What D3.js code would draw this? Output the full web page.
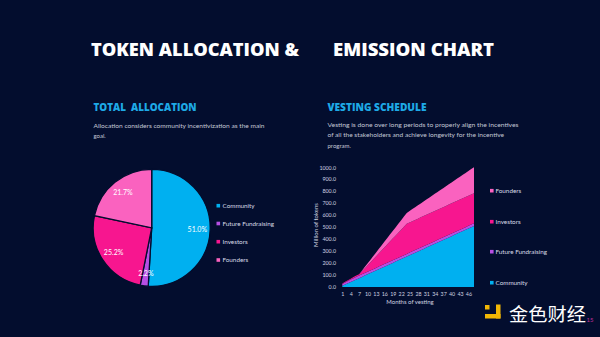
<!DOCTYPE html>
<html><head><meta charset="utf-8">
<script src="https://cdn.jsdelivr.net/npm/d3@7"></script>
<style>
html,body{margin:0;padding:0;background:#030d2e;}
svg{display:block;}
</style></head>
<body>
<svg id="c" width="600" height="337"></svg>
<script>
// ---------- DATA ----------
const pieCategories = ["Community", "Future Fundraising", "Investors", "Founders"];
const pieValues = [51.0, 2.2, 25.2, 21.7];
const pieLabels = ["51.0%", "2.2%", "25.2%", "21.7%"];

const months = d3.range(1, 49);
const monthTicks = [1, 4, 7, 10, 13, 16, 19, 22, 25, 28, 31, 34, 37, 40, 43, 46];
const yTicks = [0, 100, 200, 300, 400, 500, 600, 700, 800, 900, 1000];

const community = [10, 20.6, 31.3, 41.9, 52.6, 63.2, 73.8, 84.5, 95.1, 105.7, 116.4, 127, 137.7, 148.3, 158.9, 169.6,
  180.2, 190.9, 201.5, 212.1, 222.8, 233.4, 244, 254.7, 265.3, 276, 286.6, 297.2, 307.9, 318.5, 329.1, 339.8,
  350.4, 361.1, 371.7, 382.3, 393, 403.6, 414.3, 424.9, 435.5, 446.2, 456.8, 467.4, 478.1, 488.7, 499.4, 510];
const futureFundraising = [15, 17, 19, 20, 21, 22, 22, 22, 22, 22, 22, 22, 22, 22, 22, 22,
  22, 22, 22, 22, 22, 22, 22, 22, 22, 22, 22, 22, 22, 22, 22, 22,
  22, 22, 22, 22, 22, 22, 22, 22, 22, 22, 22, 22, 22, 22, 22, 22];
const investors = [5, 6, 7, 8, 9, 10, 10, 24.2, 38.5, 52.7, 67, 81.2, 95.4, 109.7, 123.9, 138.1,
  152.4, 166.6, 180.8, 195.1, 209.3, 223.5, 237.8, 252, 252, 252, 252, 252, 252, 252, 252, 252,
  252, 252, 252, 252, 252, 252, 252, 252, 252, 252, 252, 252, 252, 252, 252, 252];
const founders = [0, 0, 0, 0, 0, 0, 0, 5.3, 10.6, 15.9, 21.2, 26.5, 31.8, 37, 42.3, 47.6,
  52.9, 58.2, 63.5, 68.8, 74.1, 79.4, 84.7, 90, 95.3, 100.6, 105.8, 111.1, 116.4, 121.7, 127, 132.3,
  137.6, 142.9, 148.2, 153.5, 158.8, 164.1, 169.3, 174.6, 179.9, 185.2, 190.5, 195.8, 201.1, 206.4, 211.7, 217];
const seriesKeys = ["Community", "Future Fundraising", "Investors", "Founders"];

const colors = {"Community": "#00b0f0", "Future Fundraising": "#b64fe3", "Investors": "#f7168f", "Founders": "#fa62bf"};
const bg = "#030d2e";

// ---------- SVG ----------
const svg = d3.select("#c");
svg.append("rect").attr("width", 600).attr("height", 337).attr("fill", bg);

const titleFont = "'Open Sans', 'DejaVu Sans', sans-serif";
const bodyFont = "Lato, 'Open Sans', sans-serif";

// Title
svg.append("text").attr("x", 91).attr("y", 56).text("TOKEN ALLOCATION &")
  .attr("font-family", titleFont).attr("font-weight", 800).attr("font-size", 17.5).attr("fill", "#ffffff")
  .attr("textLength", 208).attr("lengthAdjust", "spacingAndGlyphs");
svg.append("text").attr("x", 333).attr("y", 56).text("EMISSION CHART")
  .attr("font-family", titleFont).attr("font-weight", 800).attr("font-size", 17.5).attr("fill", "#ffffff")
  .attr("textLength", 161).attr("lengthAdjust", "spacingAndGlyphs");

// Section headings
svg.append("text").attr("x", 93.5).attr("y", 111.3).text("TOTAL  ALLOCATION")
  .attr("font-family", titleFont).attr("font-weight", 800).attr("font-size", 10).attr("fill", "#1ea9e6")
  .attr("textLength", 103).attr("lengthAdjust", "spacingAndGlyphs").attr("xml:space", "preserve");
svg.append("text").attr("x", 327.5).attr("y", 110.8).text("VESTING SCHEDULE")
  .attr("font-family", titleFont).attr("font-weight", 800).attr("font-size", 10).attr("fill", "#1ea9e6")
  .attr("textLength", 99).attr("lengthAdjust", "spacingAndGlyphs");

const descColor = "#c4c8d6";
function desc(x, y, s, w) {
  const t = svg.append("text").attr("x", x).attr("y", y).text(s)
    .attr("font-family", bodyFont).attr("font-size", 6).attr("fill", descColor);
  if (w) t.attr("textLength", w).attr("lengthAdjust", "spacingAndGlyphs");
}
desc(93.5, 127.7, "Allocation considers community incentivization as the main", 171);
desc(93.5, 137.7, "goal.");
desc(327.5, 126.7, "Vesting is done over long periods to properly align the incentives", 191);
desc(327.5, 136.5, "of all the stakeholders and achieve longevity for the incentive", 176.5);
desc(327.5, 148, "program.");

// ---------- PIE ----------
const cx = 151.7, cy = 227.8, R = 58.5;
const pie = d3.pie().sort(null).value(d => d.v);
const pieData = pie(pieCategories.map((c, i) => ({c, v: pieValues[i], label: pieLabels[i]})));
const arc = d3.arc().innerRadius(0).outerRadius(R);
const labelArc = d3.arc().innerRadius(R * 0.78).outerRadius(R * 0.78);
const gp = svg.append("g").attr("transform", `translate(${cx},${cy})`);
gp.selectAll("path").data(pieData).join("path")
  .attr("d", arc).attr("fill", d => colors[d.data.c])
  .attr("stroke", bg).attr("stroke-width", 1.3);
gp.selectAll("text").data(pieData).join("text")
  .attr("transform", d => `translate(${labelArc.centroid(d)})`)
  .attr("text-anchor", "middle").attr("dy", "0.35em")
  .attr("font-family", bodyFont).attr("font-size", 7).attr("fill", "#ffffff")
  .text(d => d.data.label);

// Pie legend
const pl = svg.append("g");
const plY = [205.7, 223.5, 241.7, 260];
pieCategories.forEach((c, i) => {
  pl.append("rect").attr("x", 216.5).attr("y", plY[i] - 1.8).attr("width", 3.6).attr("height", 3.6).attr("fill", colors[c]);
  pl.append("text").attr("x", 222.5).attr("y", plY[i]).attr("dy", "0.35em").text(c)
    .attr("font-family", bodyFont).attr("font-size", 6.3).attr("fill", "#d8dbe6");
});

// ---------- AREA CHART ----------
const x = d3.scaleLinear().domain([1, 48]).range([342.3, 474]);
const y = d3.scaleLinear().domain([0, 1000]).range([287, 167.3]);
const table = months.map((m, i) => ({
  month: m,
  "Community": community[i],
  "Future Fundraising": futureFundraising[i],
  "Investors": investors[i],
  "Founders": founders[i]
}));
const stacked = d3.stack().keys(seriesKeys)(table);
const area = d3.area().x(d => x(d.data.month)).y0(d => y(d[0])).y1(d => y(d[1]));
svg.append("g").selectAll("path").data(stacked).join("path")
  .attr("d", area).attr("fill", d => colors[d.key]);

// Axes
const axisFont = bodyFont;
const yAxis = svg.append("g").attr("transform", "translate(340,0)")
  .call(d3.axisLeft(y).tickValues(yTicks).tickFormat(d3.format(".1f")).tickSize(0).tickPadding(4));
yAxis.select(".domain").remove();
yAxis.selectAll("text").attr("font-family", axisFont).attr("font-size", 5.3).attr("fill", "#d0d4e0");

const xAxis = svg.append("g").attr("transform", "translate(0,289)")
  .call(d3.axisBottom(x).tickValues(monthTicks).tickFormat(d3.format("d")).tickSize(0).tickPadding(3));
xAxis.select(".domain").remove();
xAxis.selectAll("text").attr("font-family", axisFont).attr("font-size", 5.3).attr("fill", "#d0d4e0");

svg.append("text").attr("x", 410).attr("y", 304.3).attr("text-anchor", "middle").text("Months of vesting")
  .attr("font-family", axisFont).attr("font-size", 6).attr("fill", "#d0d4e0");
svg.append("text").attr("transform", "translate(317.8,225) rotate(-90)").attr("text-anchor", "middle")
  .text("Million of tokens").attr("font-family", axisFont).attr("font-size", 6).attr("fill", "#d0d4e0");

// Area legend
const alY = {"Founders": 190.7, "Investors": 221.7, "Future Fundraising": 251.7, "Community": 282.7};
const al = svg.append("g");
seriesKeys.forEach(k => {
  al.append("rect").attr("x", 490).attr("y", alY[k] - 1.8).attr("width", 3.6).attr("height", 3.6).attr("fill", colors[k]);
  al.append("text").attr("x", 495.5).attr("y", alY[k]).attr("dy", "0.35em").text(k)
    .attr("font-family", bodyFont).attr("font-size", 6.3).attr("fill", "#d8dbe6");
});

// ---------- WATERMARK ----------
const wm = svg.append("g");
wm.append("rect").attr("x", 485).attr("y", 305).attr("width", 4.5).attr("height", 4.5).attr("fill", "#f2b705");
wm.append("rect").attr("x", 496).attr("y", 304.5).attr("width", 4.5).attr("height", 14).attr("fill", "#f2b705");
wm.append("rect").attr("x", 485).attr("y", 314).attr("width", 15.5).attr("height", 4.5).attr("fill", "#f2b705");
wm.append("text").attr("x", 509).attr("y", 320.5).text("金色财经")
  .attr("font-family", "'Noto Sans CJK SC', sans-serif").attr("font-size", 18.5).attr("fill", "#ffffff")
  .attr("textLength", 77).attr("lengthAdjust", "spacingAndGlyphs");
wm.append("text").attr("x", 586.5).attr("y", 322).text("15")
  .attr("font-family", bodyFont).attr("font-size", 6).attr("fill", "#c0309a");
</script>
</body></html>
